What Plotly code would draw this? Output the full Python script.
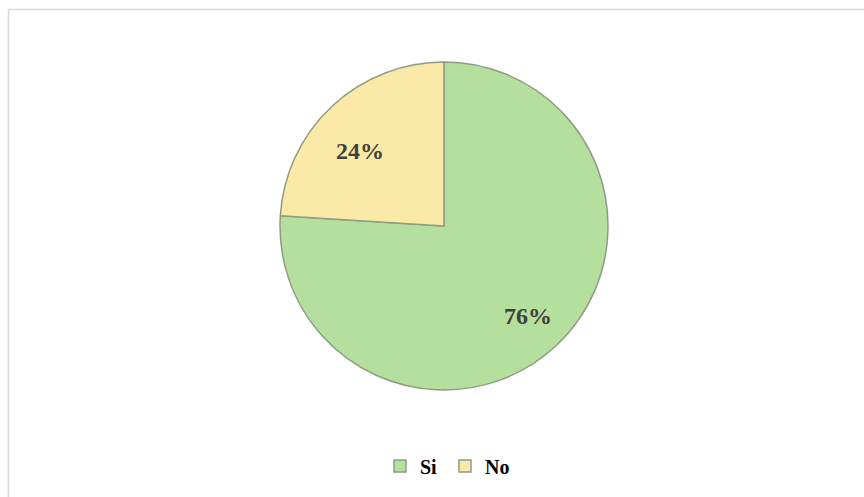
import math
import plotly.graph_objects as go

labels = ["Si", "No"]
values = [76, 24]
colors = ["#b5df9d", "#fbe9a8"]

W, H = 864, 497
cx, cy, r = 444, 226, 164

fig = go.Figure(go.Pie(
    labels=labels,
    values=values,
    sort=False,
    direction="clockwise",
    rotation=0,
    marker=dict(colors=colors, line=dict(color="#8f9c84", width=1.5)),
    textposition="none",
    domain=dict(x=[(cx - r) / W, (cx + r) / W], y=[1 - (cy + r) / H, 1 - (cy - r) / H]),
    hoverinfo="label+percent",
))

# percent labels placed at the mid-angle of each slice (computed from data)
total = sum(values)
annotations = []
start = 0.0
for lab, v in zip(labels, values):
    frac = v / total
    mid = (start + frac / 2) * 2 * math.pi  # clockwise from 12 o'clock
    start += frac
    dist = 0.75 * r
    px = cx + dist * math.sin(mid)
    py = cy - dist * math.cos(mid)
    annotations.append(dict(
        x=px / W, y=1 - py / H, xref="paper", yref="paper",
        text=f"<b>{round(frac * 100)}%</b>", showarrow=False,
        font=dict(family="Liberation Serif", size=24, color="#404040"),
    ))

fig.update_layout(
    width=W, height=H,
    margin=dict(l=0, r=0, t=0, b=0),
    paper_bgcolor="white",
    plot_bgcolor="white",
    showlegend=True,
    annotations=annotations,
    legend=dict(
        orientation="h",
        x=445 / W, xanchor="center",
        y=1 - 466 / H, yanchor="middle",
        font=dict(family="Liberation Serif", size=20, color="#000000", weight="bold"),
        itemwidth=30,
        entrywidth=20,
        tracegroupgap=0,
        traceorder="normal",
    ),
    shapes=[dict(
        type="rect", xref="paper", yref="paper",
        x0=8.5 / W, x1=1.02, y0=-0.02, y1=1 - 9.5 / H,
        line=dict(color="#d9d9d9", width=1.5),
    )],
)

fig.write_html("out.html", config={"displayModeBar": False},
               post_script="document.body.style.margin='0';document.body.style.padding='0';")
